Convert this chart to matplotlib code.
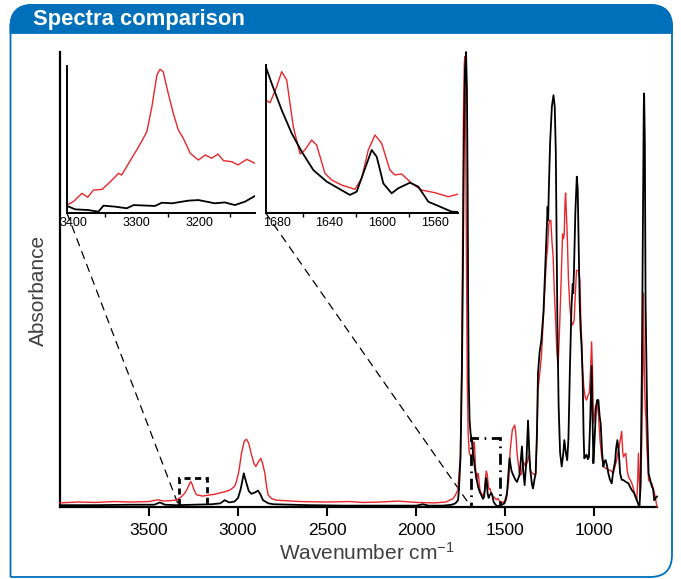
import matplotlib
matplotlib.use("Agg")
import matplotlib.pyplot as plt
from matplotlib.path import Path
from matplotlib.patches import PathPatch, Rectangle, ConnectionPatch

plt.rcParams['font.family'] = ['Liberation Sans', 'DejaVu Sans']
plt.rcParams['mathtext.default'] = 'regular'

# ---------------- data ----------------
black_wn = [4000, 3800, 3600, 3470, 3440, 3410, 3350, 3250, 3150, 3100, 3075, 3050, 3020, 3000,
            2985, 2968, 2955, 2940, 2925, 2905, 2888, 2875, 2860, 2830, 2800, 2600, 2400, 2200,
            2000, 1963, 1930, 1850, 1800, 1780, 1765, 1760, 1751, 1743, 1738, 1732, 1726, 1720,
            1715, 1711, 1708, 1705, 1700, 1694, 1688, 1684, 1676, 1669, 1661, 1652, 1642, 1633,
            1625, 1619, 1614, 1608, 1604, 1599, 1593, 1588, 1579, 1573, 1565, 1556, 1547, 1530,
            1515, 1504, 1490, 1476, 1465, 1455, 1443, 1434, 1420, 1406, 1399, 1391, 1380, 1372,
            1365, 1359, 1350, 1344, 1336, 1329, 1322, 1316, 1307, 1297, 1285, 1269, 1262, 1259,
            1255, 1248, 1238, 1229, 1222, 1216, 1212, 1207, 1200, 1192, 1183, 1176, 1168, 1160,
            1152, 1145, 1137, 1128, 1121, 1118, 1114, 1106, 1098, 1093, 1088, 1082, 1077, 1071,
            1065, 1060, 1056, 1050, 1043, 1036, 1030, 1022, 1015, 1010, 1005, 998, 990, 984,
            977, 970, 964, 956, 949, 943, 936, 928, 921, 912, 902, 893, 883, 877, 870, 862,
            855, 846, 836, 822, 808, 800, 789, 775, 761, 750, 746, 740, 733, 727, 722, 720,
            716, 712, 709, 703, 695, 686, 677, 670, 663, 655, 648]
black_abs = [0.004, 0.004, 0.005, 0.005, 0.010, 0.005, 0.004, 0.005, 0.006, 0.008, 0.015, 0.010, 0.012, 0.020,
             0.040, 0.074, 0.055, 0.035, 0.029, 0.032, 0.036, 0.028, 0.015, 0.008, 0.006, 0.004, 0.003, 0.003,
             0.003, 0.006, 0.003, 0.003, 0.005, 0.008, 0.015, 0.037, 0.110, 0.300, 0.500, 0.800, 0.960, 1.000,
             0.920, 0.700, 0.450, 0.280, 0.190, 0.160, 0.148, 0.131, 0.104, 0.081, 0.062, 0.044, 0.032, 0.025,
             0.018, 0.022, 0.040, 0.064, 0.057, 0.030, 0.020, 0.025, 0.031, 0.027, 0.011, 0.006, 0.002, 0.003,
             0.006, 0.008, 0.030, 0.107, 0.080, 0.070, 0.060, 0.055, 0.070, 0.133, 0.080, 0.048, 0.110, 0.190,
             0.120, 0.080, 0.050, 0.041, 0.060, 0.075, 0.160, 0.294, 0.340, 0.367, 0.430, 0.587, 0.660, 0.630,
             0.700, 0.800, 0.880, 0.905, 0.880, 0.780, 0.600, 0.400, 0.220, 0.120, 0.089, 0.110, 0.147, 0.120,
             0.103, 0.150, 0.300, 0.440, 0.490, 0.470, 0.520, 0.650, 0.726, 0.700, 0.580, 0.450, 0.390, 0.350,
             0.280, 0.160, 0.107, 0.110, 0.115, 0.105, 0.110, 0.200, 0.310, 0.200, 0.096, 0.150, 0.220, 0.235,
             0.235, 0.200, 0.184, 0.120, 0.089, 0.100, 0.103, 0.090, 0.074, 0.060, 0.052, 0.080, 0.100, 0.130, 0.147, 0.120,
             0.074, 0.060, 0.059, 0.055, 0.052, 0.045, 0.037, 0.030, 0.015, 0.003, 0.001, 0.050, 0.293, 0.600, 0.880, 0.909,
             0.800, 0.450, 0.368, 0.200, 0.074, 0.060, 0.045, 0.040, 0.015, 0.020, 0.023]

red_wn = [4000, 3900, 3800, 3700, 3600, 3500, 3450, 3420, 3380, 3346, 3320, 3300, 3285, 3272, 3266,
          3258, 3248, 3234, 3200, 3169, 3130, 3103, 3070, 3047, 3020, 3009, 2995, 2981, 2965, 2953,
          2940, 2925, 2910, 2900, 2885, 2872, 2862, 2850, 2840, 2831, 2810, 2784, 2700, 2653, 2500,
          2373, 2300, 2200, 2100, 2000, 1900, 1832, 1813, 1794, 1780, 1766, 1752, 1745, 1740, 1735,
          1730, 1727, 1723, 1720, 1717, 1713, 1708, 1702, 1695, 1688, 1685, 1680, 1676, 1672, 1667,
          1662, 1659, 1654, 1650, 1643, 1638, 1631, 1621, 1616, 1611, 1606, 1601, 1594, 1590, 1585,
          1578, 1570, 1560, 1550, 1542, 1530, 1513, 1494, 1480, 1472, 1460, 1447, 1440, 1434, 1425,
          1419, 1410, 1400, 1392, 1385, 1375, 1367, 1358, 1348, 1338, 1329, 1322, 1316, 1307, 1297,
          1285, 1269, 1262, 1256, 1250, 1244, 1237, 1231, 1224, 1216, 1210, 1203, 1196, 1190, 1183,
          1178, 1173, 1169, 1164, 1161, 1156, 1152, 1145, 1137, 1130, 1122, 1113, 1106, 1100, 1090,
          1081, 1076, 1071, 1065, 1058, 1050, 1043, 1036, 1028, 1021, 1015, 1010, 1005, 999, 994,
          988, 983, 976, 968, 958, 949, 935, 921, 907, 893, 883, 874, 867, 860, 853, 846, 840, 836,
          829, 823, 815, 808, 798, 789, 780, 770, 761, 756, 752, 747, 742, 737, 733, 728, 724, 719,
          714, 709, 705, 700, 695, 686, 677, 668, 658, 648]
red_abs = [0.009, 0.011, 0.010, 0.012, 0.011, 0.012, 0.016, 0.013, 0.014, 0.015, 0.022, 0.030, 0.040, 0.052, 0.056,
           0.050, 0.038, 0.027, 0.024, 0.026, 0.028, 0.031, 0.034, 0.037, 0.045, 0.056, 0.080, 0.118, 0.145, 0.149,
           0.140, 0.115, 0.095, 0.089, 0.100, 0.107, 0.095, 0.075, 0.045, 0.026, 0.018, 0.015, 0.013, 0.012, 0.011,
           0.012, 0.010, 0.011, 0.013, 0.010, 0.009, 0.011, 0.015, 0.018, 0.026, 0.037, 0.110, 0.300, 0.550, 0.850,
           0.970, 0.990, 0.900, 0.700, 0.500, 0.280, 0.160, 0.120, 0.112, 0.115, 0.112, 0.128, 0.143, 0.135, 0.087,
           0.060, 0.064, 0.074, 0.069, 0.040, 0.033, 0.028, 0.024, 0.035, 0.064, 0.079, 0.071, 0.044, 0.039, 0.040,
           0.030, 0.023, 0.021, 0.016, 0.019, 0.012, 0.010, 0.015, 0.060, 0.125, 0.170, 0.180, 0.160, 0.120, 0.090,
           0.070, 0.072, 0.100, 0.095, 0.088, 0.100, 0.114, 0.080, 0.074, 0.072, 0.070, 0.150, 0.257, 0.290, 0.330,
           0.420, 0.543, 0.570, 0.620, 0.630, 0.630, 0.580, 0.550, 0.470, 0.400, 0.340, 0.310, 0.380, 0.450, 0.540,
           0.600, 0.590, 0.600, 0.670, 0.690, 0.640, 0.600, 0.500, 0.440, 0.410, 0.400, 0.410, 0.470, 0.520, 0.520,
           0.500, 0.420, 0.370, 0.300, 0.260, 0.240, 0.235, 0.245, 0.250, 0.300, 0.363, 0.300, 0.185, 0.200, 0.220,
           0.225, 0.228, 0.200, 0.147, 0.110, 0.089, 0.085, 0.082, 0.080, 0.074, 0.090, 0.103, 0.120, 0.132, 0.150, 0.166, 0.120, 0.110,
           0.115, 0.118, 0.080, 0.066, 0.060, 0.052, 0.040, 0.023, 0.015, 0.060, 0.118, 0.060, 0.023, 0.080, 0.147, 0.300, 0.470, 0.300,
           0.220, 0.190, 0.132, 0.100, 0.059, 0.055, 0.052, 0.040, 0.023, 0.000]

# inset 1 (N-H region)
in1_red_wn = [3410, 3400, 3386, 3377, 3368, 3354, 3341, 3328, 3323, 3312, 3296, 3283, 3275, 3267, 3262,
              3257, 3249, 3241, 3233, 3225, 3214, 3201, 3190, 3180, 3170, 3161, 3148, 3138, 3124, 3111]
in1_red_abs = [0.054, 0.077, 0.134, 0.107, 0.156, 0.161, 0.213, 0.270, 0.258, 0.338, 0.451, 0.553, 0.723, 0.939, 0.978,
               0.961, 0.814, 0.678, 0.565, 0.508, 0.406, 0.360, 0.395, 0.372, 0.401, 0.356, 0.349, 0.327, 0.365, 0.338]
in1_blk_wn = [3410, 3397, 3376, 3360, 3352, 3333, 3315, 3304, 3270, 3259, 3243, 3217, 3201, 3175, 3159, 3143, 3127, 3111]
in1_blk_abs = [0.048, 0.025, 0.020, 0.009, 0.050, 0.043, 0.032, 0.054, 0.048, 0.070, 0.066, 0.084, 0.088, 0.066,
               0.072, 0.054, 0.077, 0.116]

# inset 2 (amide region)
in2_red_wn = [1688.3, 1685, 1680, 1676.2, 1672.4, 1667.4, 1662.3, 1658.6, 1653.5, 1649.7, 1643.4, 1638.3, 1630.8,
              1620.7, 1615.6, 1610.6, 1605.5, 1600.5, 1594.2, 1590.4, 1585.3, 1577.7, 1570.2, 1560, 1550, 1542.4]
in2_red_abs = [0.764, 0.745, 0.853, 0.955, 0.899, 0.583, 0.399, 0.426, 0.493, 0.459, 0.268, 0.223, 0.189,
               0.160, 0.234, 0.426, 0.527, 0.471, 0.290, 0.257, 0.264, 0.200, 0.155, 0.137, 0.110, 0.128]
in2_blk_wn = [1688.3, 1683.8, 1676.2, 1668.6, 1661, 1652.2, 1642.1, 1633.3, 1624.5, 1619.4, 1614.4, 1608, 1604.2,
              1599.2, 1592.9, 1587.9, 1579, 1572.7, 1565.1, 1556.3, 1547.5, 1542.4]
in2_blk_abs = [0.989, 0.876, 0.696, 0.538, 0.414, 0.290, 0.212, 0.167, 0.122, 0.144, 0.268, 0.426, 0.380,
               0.200, 0.133, 0.167, 0.205, 0.178, 0.076, 0.043, 0.009, 0.007]

main_ticks = [3500, 3000, 2500, 2000, 1500, 1000]
in1_ticks = [3400, 3300, 3200]
in2_ticks = [1680, 1640, 1600, 1560]

RED = '#e8262b'
BLUE = '#0070ba'
W, H = 681, 579

fig = plt.figure(figsize=(W / 100, H / 100), dpi=100)


def fx(x):
    return x / W


def fy(y):
    return 1 - y / H


# ---------------- frame ----------------
bg = fig.add_axes([0, 0, 1, 1], zorder=0)
bg.set_xlim(0, W)
bg.set_ylim(H, 0)
bg.axis('off')
L, R, T, B, r = 10.5, 672, 5, 577, 22
verts = [(L, B), (L, T + r), (L, T), (L + r, T), (R - r, T), (R, T), (R, T + r),
         (R, B - r), (R, B), (R - r, B), (L, B)]
codes = [Path.MOVETO, Path.LINETO, Path.CURVE3, Path.CURVE3, Path.LINETO, Path.CURVE3, Path.CURVE3,
         Path.LINETO, Path.CURVE3, Path.CURVE3, Path.LINETO]
bg.add_patch(PathPatch(Path(verts, codes), facecolor='white', edgecolor=BLUE, lw=1.3))
HB = 33
hverts = [(L, HB), (L, T + r), (L, T), (L + r, T), (R - r, T), (R, T), (R, T + r), (R, HB), (L, HB)]
hcodes = [Path.MOVETO, Path.LINETO, Path.CURVE3, Path.CURVE3, Path.LINETO, Path.CURVE3, Path.CURVE3,
          Path.LINETO, Path.CLOSEPOLY]
bg.add_patch(PathPatch(Path(hverts, hcodes), facecolor=BLUE, edgecolor=BLUE, lw=1.3))
bg.text(33, 19.5, 'Spectra comparison', color='white', fontsize=15.8, fontweight='bold',
        ha='left', va='center', family=['Liberation Sans', 'DejaVu Sans'])

# ---------------- main axes ----------------
mL, mR, mT, mB = 60, 656.6, 52, 507
ax = fig.add_axes([fx(mL), fy(mB), fx(mR - mL), (mB - mT) / H], zorder=2)
ax.patch.set_alpha(0)
ax.plot(red_wn, red_abs, color=RED, lw=1.0, clip_on=False, zorder=3)
ax.plot(black_wn, black_abs, color='black', lw=1.3, clip_on=False, zorder=4)
ax.set_xlim(4000, 650)
ax.set_ylim(0, 1.0)
for s in ['top', 'right']:
    ax.spines[s].set_visible(False)
for s in ['left', 'bottom']:
    ax.spines[s].set_linewidth(1.6)
ax.set_yticks([])
ax.set_xticks(main_ticks)
ax.set_xticklabels([str(t) for t in main_ticks])
ax.tick_params(axis='x', direction='out', length=6.5, width=1.5, pad=5, labelsize=12.5)

# zoom boxes
ax.add_patch(Rectangle((3331, 0.0), 3174 - 3331, 0.064, fill=False, edgecolor='black', lw=2.0,
                       linestyle=(0, (2.2, 1.6)), zorder=5))
ax.add_patch(Rectangle((1691, 0.0), 1532 - 1691, 0.152, fill=False, edgecolor='black', lw=2.0,
                       linestyle=(0, (4, 2, 0.6, 2)), zorder=5))

fig.text(fx(367), fy(553), 'Wavenumber cm$^{-1}$', ha='center', va='center', fontsize=15, color='#404040')
fig.text(fx(38), fy(290), 'Absorbance', ha='center', va='center', rotation=90, fontsize=15, color='#404040')

# ---------------- insets ----------------


def make_inset(left, right, top, bottom, xlim, rwn, rab, bwn, bab, ticks, minor):
    a = fig.add_axes([fx(left), fy(bottom), fx(right - left), (bottom - top) / H], zorder=3)
    a.patch.set_alpha(0)
    a.plot(rwn, rab, color=RED, lw=1.0)
    a.plot(bwn, bab, color='black', lw=1.3)
    a.set_xlim(*xlim)
    a.set_ylim(0, 1.0)
    for s in ['top', 'right']:
        a.spines[s].set_visible(False)
    for s in ['left', 'bottom']:
        a.spines[s].set_linewidth(1.4)
    a.set_yticks([])
    a.set_xticks(ticks)
    a.set_xticklabels([str(t) for t in ticks])
    a.set_xticks(minor, minor=True)
    a.tick_params(axis='x', which='major', length=0, pad=3, labelsize=9)
    a.tick_params(axis='x', which='minor', length=3, width=1.0, direction='out')
    return a


ax1 = make_inset(67, 255, 66, 213, (3410, 3111), in1_red_wn, in1_red_abs, in1_blk_wn, in1_blk_abs,
                 in1_ticks, [3350, 3250, 3150])
ax2 = make_inset(265.7, 458.3, 65, 213, (1688.3, 1542.4), in2_red_wn, in2_red_abs, in2_blk_wn, in2_blk_abs,
                 in2_ticks, [1660, 1620, 1580])

for ain, xb in [(ax1, 3331), (ax2, 1691)]:
    con = ConnectionPatch(xyA=(0, 0), coordsA=ain.transAxes, xyB=(xb, 0.0), coordsB=ax.transData,
                          color='black', lw=0.9, linestyle=(0, (6, 5)), zorder=1)
    fig.add_artist(con)

fig.savefig('out.png', dpi=100)
